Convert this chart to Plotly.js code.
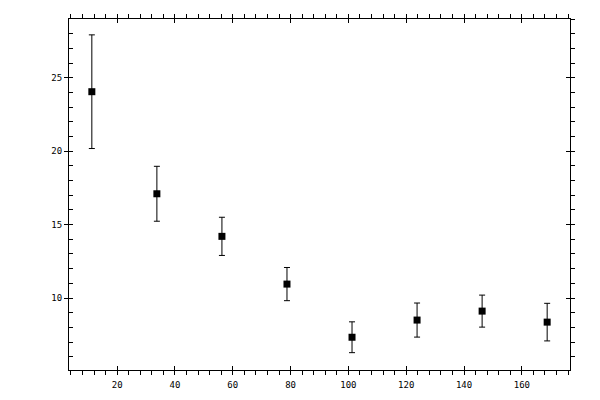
<!DOCTYPE html>
<html>
<head>
<meta charset="utf-8">
<script src="https://cdn.plot.ly/plotly-3.0.1.min.js"></script>
<style>html,body{margin:0;padding:0;background:#fff;}#chart{width:600px;height:400px;}</style>
</head>
<body>
<div id="chart"></div>
<script>
var xValues = [11.25, 33.75, 56.25, 78.75, 101.25, 123.75, 146.25, 168.75];
var yValues = [24.05, 17.1, 14.2, 10.95, 7.33, 8.5, 9.11, 8.36];
var yErrors = [3.87, 1.87, 1.3, 1.13, 1.05, 1.16, 1.09, 1.28];
var xRange = [3.35, 176.65];
var yRange = [5.1, 29.0];

var tickFont = {family: 'DejaVu Sans Mono, monospace', size: 9, color: '#000'};

var trace = {
  x: xValues,
  y: yValues,
  type: 'scatter',
  mode: 'markers',
  marker: {symbol: 'square', size: 7, color: '#000'},
  error_y: {type: 'data', array: yErrors, visible: true, color: '#000', thickness: 1, width: 3},
  showlegend: false,
  hoverinfo: 'skip'
};

function ghost(xa, ya) {
  return {x: xValues, y: yValues, xaxis: xa, yaxis: ya, type: 'scatter', mode: 'markers',
          marker: {opacity: 0, size: 1}, showlegend: false, hoverinfo: 'skip'};
}

var common = {showgrid: false, zeroline: false, tickcolor: '#000', tickwidth: 1, linecolor: '#000', linewidth: 1};

var layout = {
  width: 600, height: 400,
  margin: {l: 69, r: 30, t: 19, b: 30, pad: 0},
  paper_bgcolor: '#fff', plot_bgcolor: '#fff',
  showlegend: false,
  xaxis: Object.assign({}, common, {
    range: xRange, tick0: 0, dtick: 20, ticks: 'outside', ticklen: 4,
    showline: true, mirror: 'ticks', tickfont: tickFont, ticklabelstandoff: 2,
    minor: {ticks: 'outside', tick0: 0, dtick: 4, ticklen: 4, tickcolor: '#000', tickwidth: 1, showgrid: false}
  }),
  xaxis2: Object.assign({}, common, {
    range: xRange, tick0: 0, dtick: 20, ticks: 'inside', ticklen: 4,
    overlaying: 'x', anchor: 'y', showline: false, mirror: 'ticks', showticklabels: false
  }),
  yaxis: Object.assign({}, common, {
    range: yRange, tick0: 0, dtick: 5, ticks: 'inside', ticklen: 4,
    showline: true, tickfont: tickFont, ticklabelstandoff: 4,
    minor: {ticks: 'inside', tick0: 0, dtick: 1, ticklen: 4, tickcolor: '#000', tickwidth: 1, showgrid: false}
  }),
  yaxis2: Object.assign({}, common, {
    range: yRange, tick0: 0, dtick: 5, ticks: 'outside', ticklen: 4,
    overlaying: 'y', side: 'left', anchor: 'x', showline: false, showticklabels: false
  }),
  yaxis3: Object.assign({}, common, {
    range: yRange, tick0: 0, dtick: 5, ticks: 'outside', ticklen: 4,
    overlaying: 'y', side: 'right', anchor: 'x', showline: true, showticklabels: false,
    minor: {ticks: 'outside', tick0: 0, dtick: 1, ticklen: 4, tickcolor: '#000', tickwidth: 1, showgrid: false}
  }),
  yaxis4: Object.assign({}, common, {
    range: yRange, tick0: 0, dtick: 5, ticks: 'inside', ticklen: 4,
    overlaying: 'y', side: 'right', anchor: 'x', showline: false, showticklabels: false
  })
};

var data = [ghost('x2', 'y'), ghost('x', 'y2'), ghost('x', 'y3'), ghost('x', 'y4'), trace];

Plotly.newPlot('chart', data, layout, {staticPlot: true, displayModeBar: false});
</script>
</body>
</html>
